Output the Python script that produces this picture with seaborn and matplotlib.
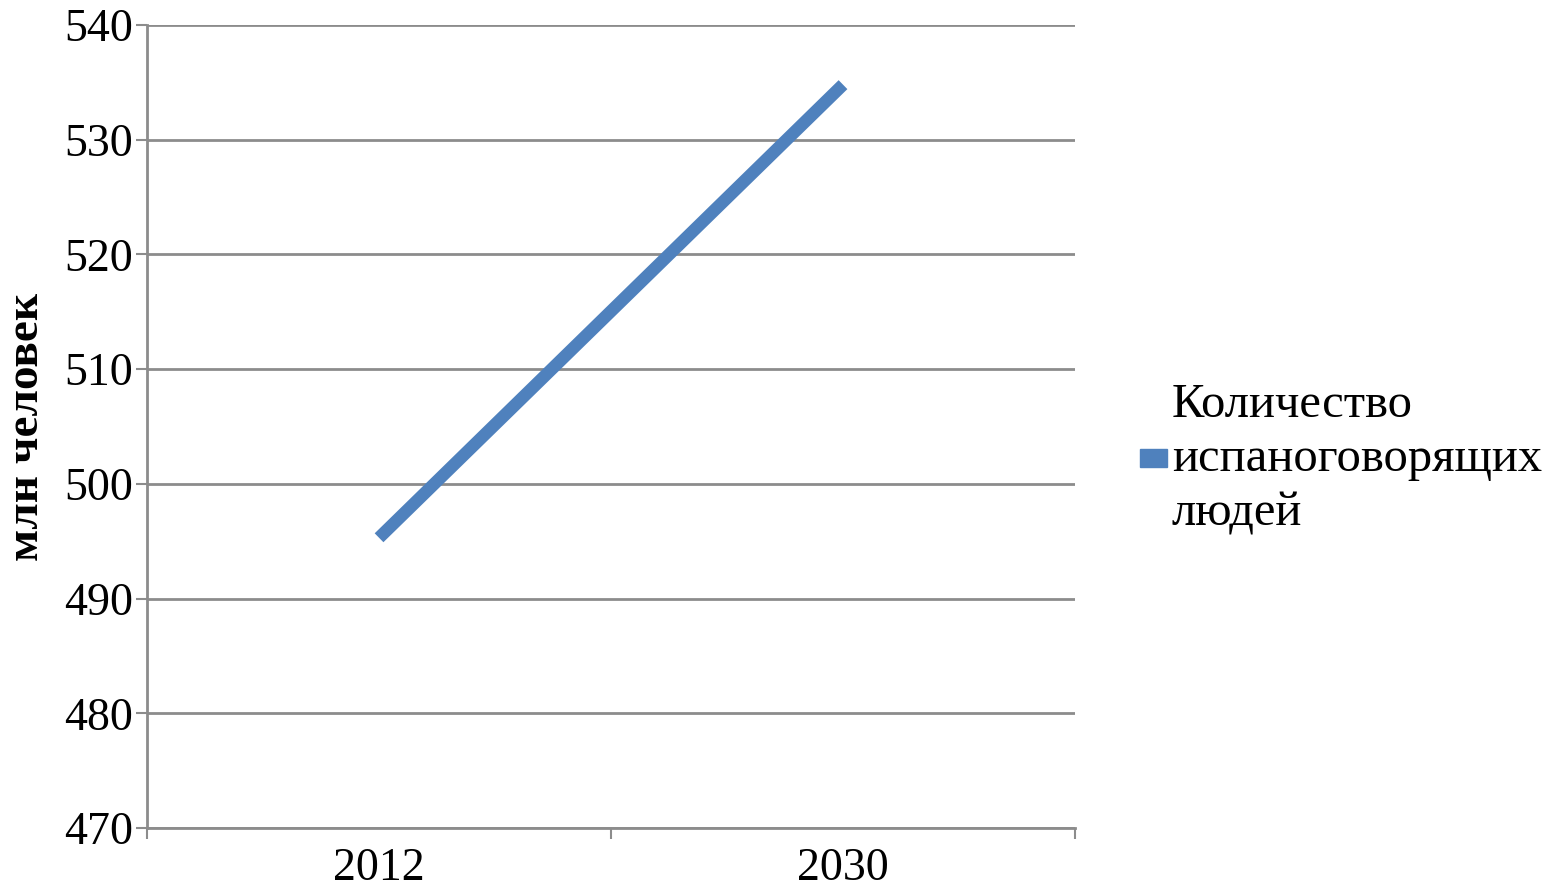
import matplotlib
matplotlib.use("Agg")
import matplotlib.pyplot as plt
import seaborn as sns
import pandas as pd
from matplotlib.ticker import FixedLocator

years = ["2012", "2030"]
speakers = [495.3, 534.8]
series_name = "Количество\nиспаноговорящих\nлюдей"

sns.set_style("white", {"xtick.bottom": True, "ytick.left": True,
                        "text.color": "black", "xtick.color": "black",
                        "ytick.color": "black", "axes.labelcolor": "black"})
plt.rcParams["font.family"] = ["Liberation Serif", "DejaVu Serif"]

df = pd.DataFrame({"pos": range(len(years)), "value": speakers, "series": series_name})

fig = plt.figure(figsize=(15.53, 8.93), dpi=100)
ax = fig.add_axes([0.0947, 0.0728, 0.5975, 0.8992])

sns.lineplot(data=df, x="pos", y="value", hue="series", palette=["#4F81BD"],
             linewidth=9, ax=ax, legend=False, solid_capstyle="butt")

ax.set_xlim(-0.5, len(years) - 0.5)
ax.set_ylim(470, 540)
ax.set_yticks(range(470, 541, 10))
ax.yaxis.grid(True, color="#8c8c8c", linewidth=2)
ax.set_axisbelow(True)

ax.set_xticks(range(len(years)))
ax.set_xticklabels(years)
ax.xaxis.set_minor_locator(FixedLocator([i - 0.5 for i in range(len(years) + 1)]))
ax.tick_params(axis="x", which="major", length=0, labelsize=33, pad=14, labelcolor="black")
ax.tick_params(axis="x", which="minor", length=8, width=1.5, color="#8c8c8c", direction="out")
ax.tick_params(axis="y", length=8, width=1.5, color="#8c8c8c", direction="out",
               labelsize=33, pad=2, labelcolor="black")

for side in ["top", "right"]:
    ax.spines[side].set_visible(False)
for side in ["left", "bottom"]:
    ax.spines[side].set_color("#8c8c8c")
    ax.spines[side].set_linewidth(2)

ax.set_xlabel("")
ax.set_ylabel("млн человек", fontsize=34, fontweight="bold", labelpad=12, color="black")

handle = plt.Rectangle((0, 0), 1, 1, color="#4F81BD")
leg = fig.legend([handle], [series_name], loc="center left", bbox_to_anchor=(0.734, 0.486),
                 frameon=False, fontsize=35, handlelength=0.56, handleheight=0.2,
                 handletextpad=0.1, borderpad=0, borderaxespad=0)
for t in leg.get_texts():
    t.set_linespacing(1.3)
    t.set_color("black")

fig.savefig("out.png", dpi=100)
